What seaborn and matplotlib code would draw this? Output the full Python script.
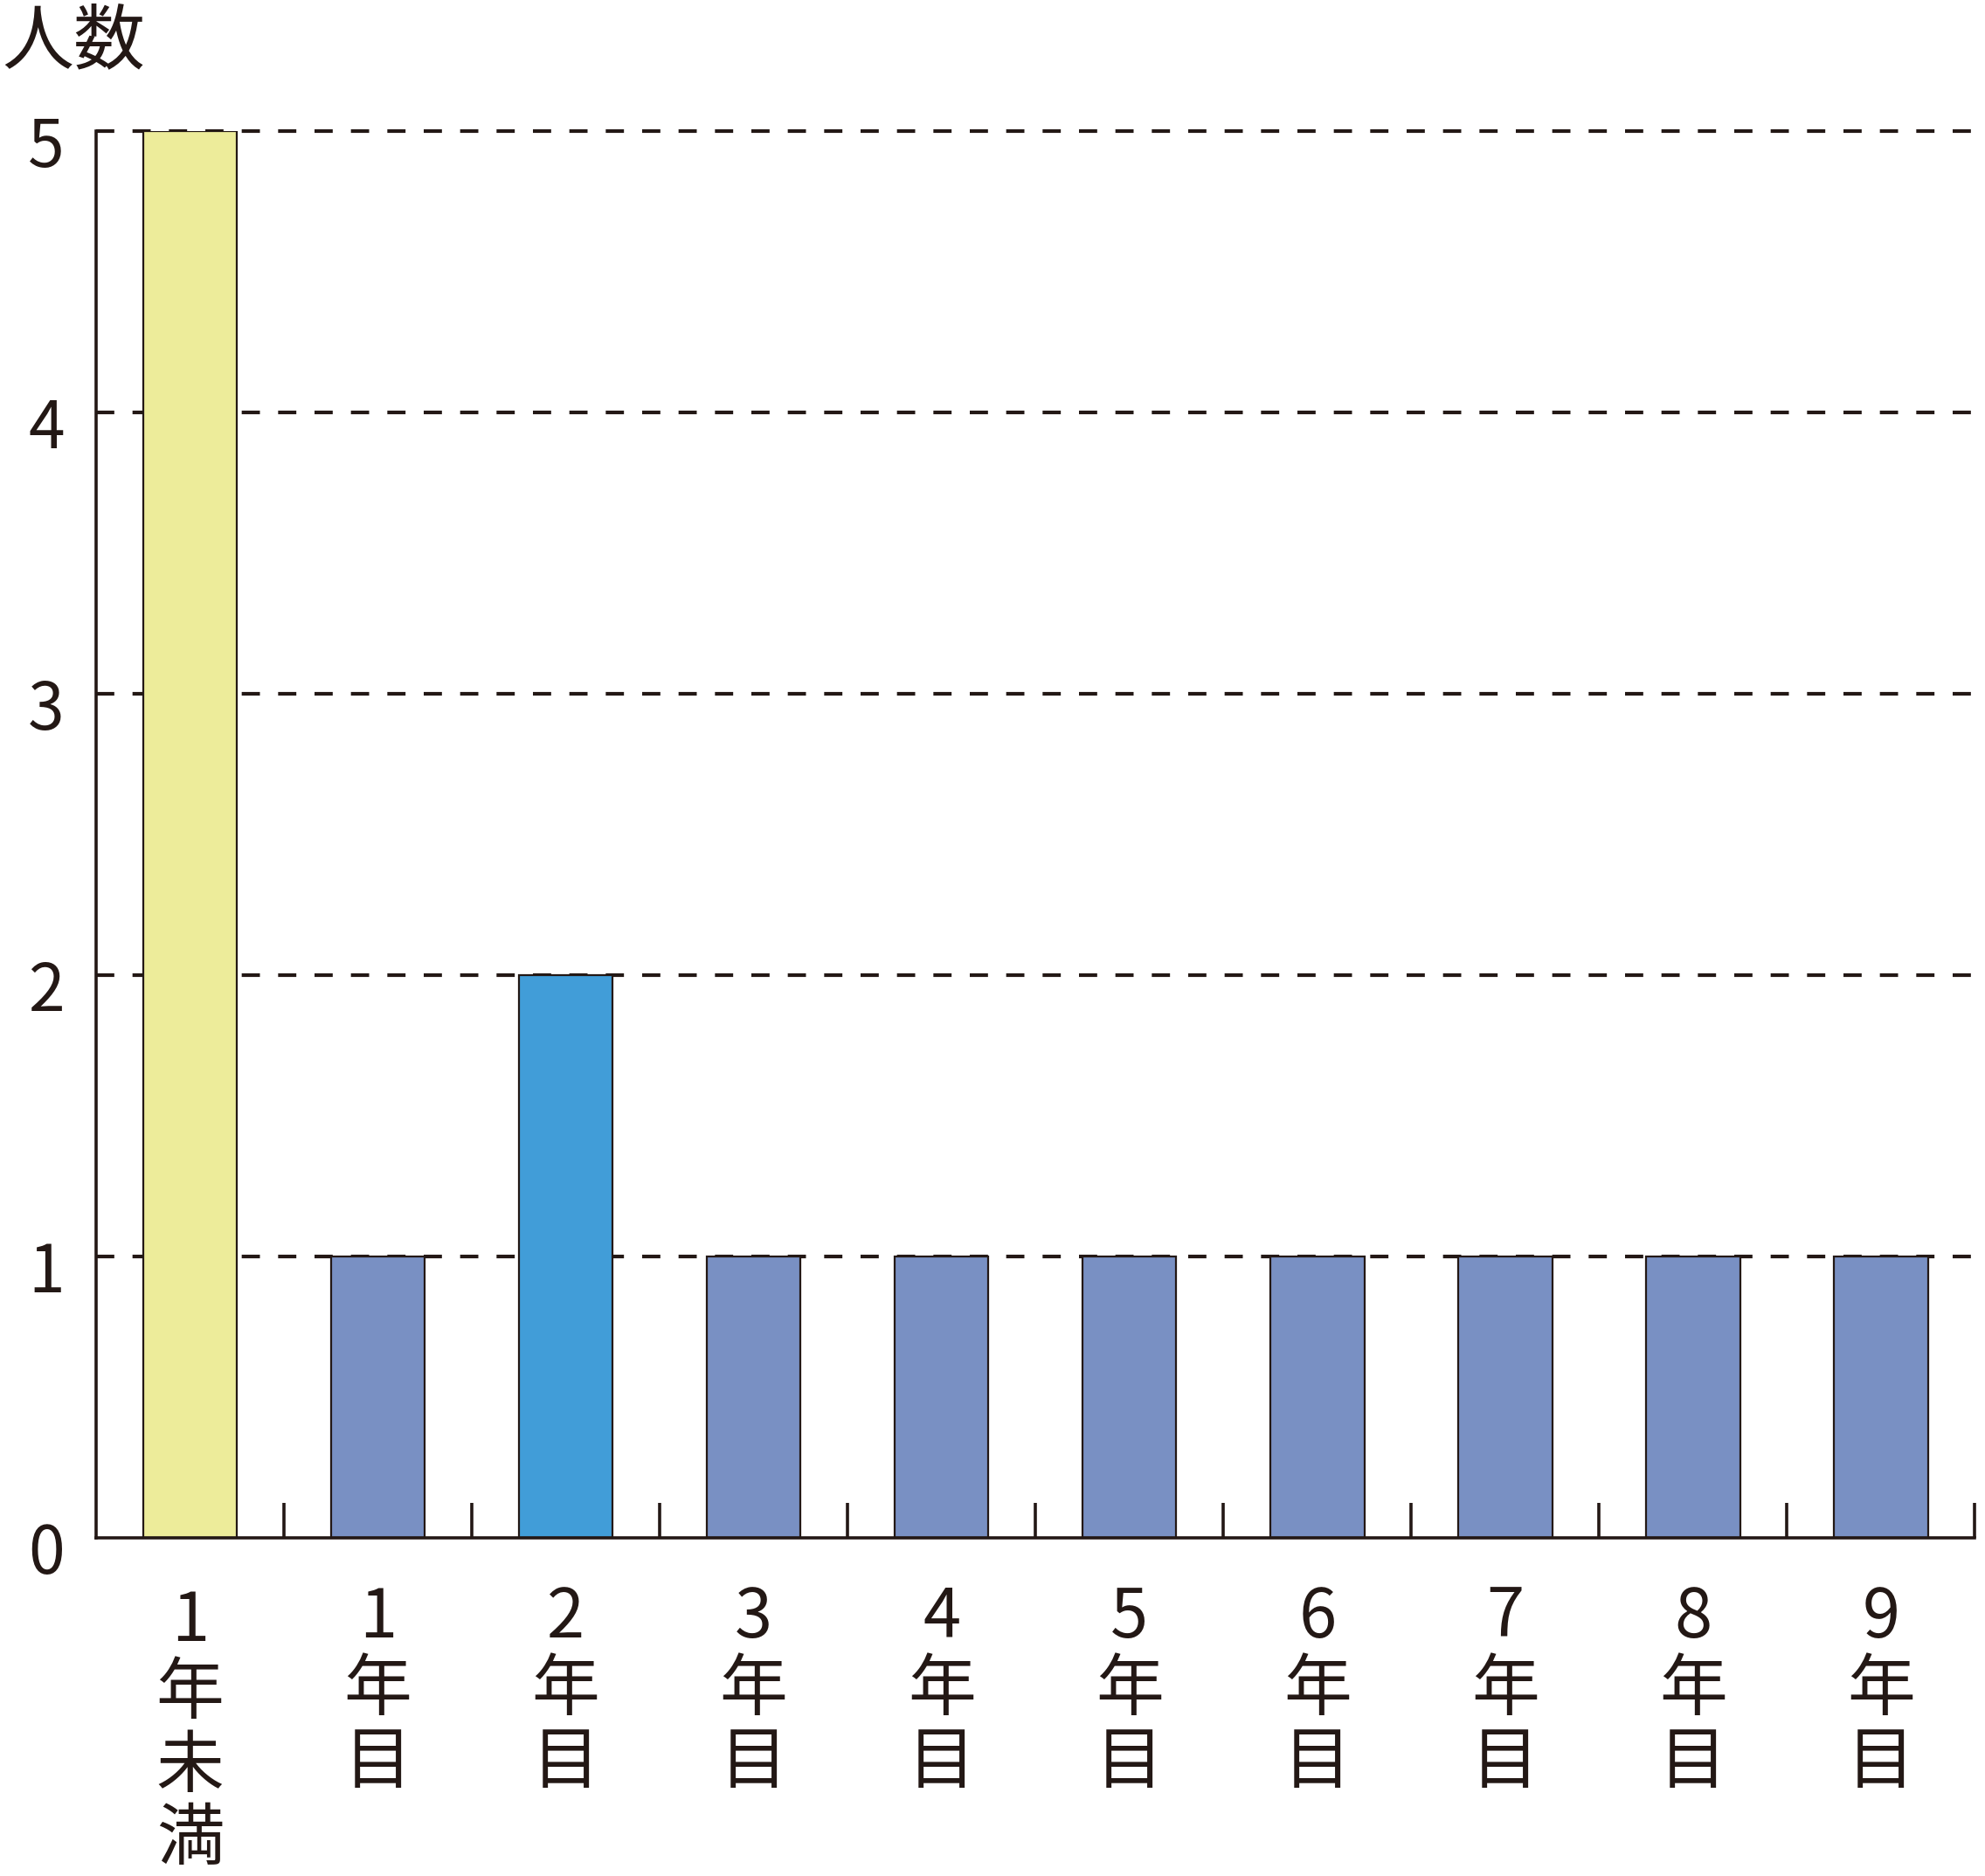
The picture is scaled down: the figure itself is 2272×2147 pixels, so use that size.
import numpy as np
import pandas as pd
import matplotlib
matplotlib.use("Agg")
import matplotlib.pyplot as plt
import matplotlib.transforms as mtransforms
import seaborn as sns

# data
categories = ["1\n年\n未\n満", "1\n年\n目", "2\n年\n目", "3\n年\n目", "4\n年\n目",
              "5\n年\n目", "6\n年\n目", "7\n年\n目", "8\n年\n目", "9\n年\n目"]
counts = [5, 1, 2, 1, 1, 1, 1, 1, 1, 1]
bar_colors = ["#EDEC9A", "#7990C3", "#419DD8", "#7990C3", "#7990C3",
              "#7990C3", "#7990C3", "#7990C3", "#7990C3", "#7990C3"]
y_ticks = [0, 1, 2, 3, 4, 5]

ink = "#231815"

sns.set_style("white")
plt.rcParams['font.family'] = ['Noto Sans CJK JP', 'DejaVu Sans']

df = pd.DataFrame({"cat": categories, "n": counts})
palette = dict(zip(categories, bar_colors))

fig = plt.figure(figsize=(22.72, 21.47), dpi=100)
ax = fig.add_axes([0.0484, 0.1804, 0.9465, 0.7497])

# dashed grid behind the bars
for v in y_ticks[1:]:
    ax.axhline(v, color=ink, lw=3.0, ls=(0, (5, 5)), zorder=0, clip_on=False)

sns.barplot(data=df, x="cat", y="n", hue="cat", palette=palette, order=categories,
            width=0.5, edgecolor=ink, linewidth=1.6, saturation=1, legend=False,
            zorder=2, ax=ax)

ax.set_xlim(-0.5, len(categories) - 0.5)
ax.set_ylim(0, 5)

for s in ["top", "right"]:
    ax.spines[s].set_visible(False)
for s in ["left", "bottom"]:
    ax.spines[s].set_color(ink)
    ax.spines[s].set_linewidth(2.6)
    ax.spines[s].set_zorder(3)

# separators between categories as inward major ticks, labels on minor ticks
ax.set_xticks(np.arange(len(categories)) + 0.5)
ax.set_xticklabels([])
ax.set_xticks(np.arange(len(categories)), minor=True)
ax.set_xticklabels(categories, minor=True, fontsize=56, color=ink,
                   linespacing=1.06, va="top")
ax.tick_params(axis="x", which="major", direction="in", length=29, width=2.6,
               color=ink, bottom=True)
ax.tick_params(axis="x", which="minor", length=0, pad=38)
# the first label sits a little lower in the original
first = ax.get_xticklabels(minor=True)[0]
first.set_transform(first.get_transform() +
                    mtransforms.ScaledTranslation(0, -3 / 72, fig.dpi_scale_trans))

ax.set_yticks(y_ticks)
ax.set_yticklabels([str(v) for v in y_ticks], fontsize=54, color=ink)
ax.tick_params(axis="y", length=0, pad=26)
shift = mtransforms.ScaledTranslation(0, -8 / 72, fig.dpi_scale_trans)
for lab in ax.get_yticklabels():
    lab.set_transform(lab.get_transform() + shift)

ax.set_xlabel("")
ax.set_ylabel("")

fig.text(0.001, 0.997, "人数", fontsize=59, color=ink, ha="left", va="top")

fig.savefig("out.png", dpi=100)
